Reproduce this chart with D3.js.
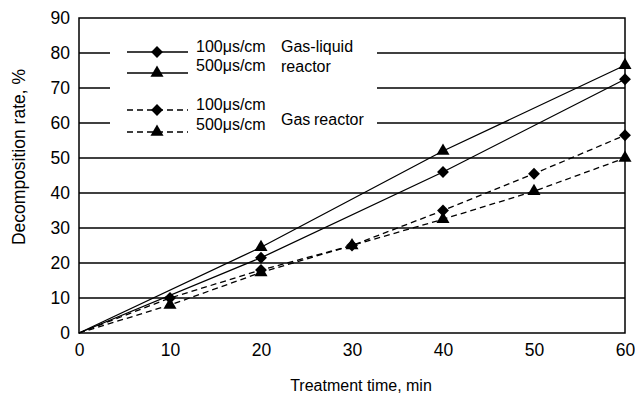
<!DOCTYPE html>
<html><head><meta charset="utf-8">
<script src="https://cdn.jsdelivr.net/npm/d3@7"></script>
<style>body{margin:0;background:#fff}text{font-family:"Liberation Sans",Arial,sans-serif;fill:#000}</style>
</head><body><svg id="c" width="635" height="395"></svg>
<script>
const xTicks = [0,10,20,30,40,50,60];
const yTicks = [0,10,20,30,40,50,60,70,80,90];
const glTime = [0,20,40,60];
const gl100 = [0,21.5,46,72.5];
const gl500 = [0,24.5,52,76.5];
const gTime = [0,10,20,30,40,50,60];
const g100 = [0,10,18,25,35,45.5,56.5];
const g500 = [0,8,17.3,25,32.5,40.5,50];
const seriesNames = ["100μs/cm","500μs/cm","100μs/cm","500μs/cm"];

const series = [
  {t:glTime, v:gl100, sym:"d", dash:null},
  {t:glTime, v:gl500, sym:"t", dash:null},
  {t:gTime, v:g100, sym:"d", dash:"6,4"},
  {t:gTime, v:g500, sym:"t", dash:"6,4"}
];
const symPath = s => s==="d" ? d3.symbol().type(d3.symbolSquare).size(70)() : d3.symbol().type(d3.symbolTriangle).size(74)();
const symRot = s => s==="d" ? " rotate(45)" : "";

const svg = d3.select("#c");
const L=79,R=625,T=18,B=333;
const x = d3.scaleLinear().domain([0,60]).range([L,R]);
const y = d3.scaleLinear().domain([0,90]).range([B,T]);

svg.append("g").selectAll("line").data(yTicks.filter(d=>d>0&&d<90)).join("line")
  .attr("x1",L).attr("x2",R).attr("y1",d=>y(d)).attr("y2",d=>y(d))
  .attr("stroke","#000").attr("stroke-width",1.5);

svg.append("rect").attr("x",110).attr("y",35).attr("width",267).attr("height",105).attr("fill","#fff");

svg.append("rect").attr("x",L).attr("y",T).attr("width",R-L).attr("height",B-T)
  .attr("fill","none").attr("stroke","#000").attr("stroke-width",1.5);

const xa = svg.append("g").attr("transform",`translate(0,${B})`)
  .call(d3.axisBottom(x).tickValues(xTicks).tickSize(0));
xa.select(".domain").remove();
xa.selectAll("text").attr("font-size",17.5).attr("font-family","Liberation Sans, Arial, sans-serif").attr("dy",0).attr("y",23);
const ya = svg.append("g").attr("transform",`translate(${L},0)`)
  .call(d3.axisLeft(y).tickValues(yTicks).tickSize(0).tickPadding(9));
ya.select(".domain").remove();
ya.selectAll("text").attr("font-size",17.5).attr("font-family","Liberation Sans, Arial, sans-serif");

const line = d3.line();
series.forEach(s=>{
  const pts = s.t.map((t,i)=>[x(t),y(s.v[i])]);
  svg.append("path").attr("d",line(pts)).attr("fill","none").attr("stroke","#000")
    .attr("stroke-width",1.3).attr("stroke-dasharray",s.dash);
  svg.append("g").selectAll("path").data(pts.slice(1)).join("path")
    .attr("transform",d=>`translate(${d[0]},${d[1]})${symRot(s.sym)}`)
    .attr("d",symPath(s.sym)).attr("fill","#000");
});

const rowsY = [52,73,110,132];
series.forEach((s,i)=>{
  svg.append("line").attr("x1",127).attr("x2",188).attr("y1",rowsY[i]).attr("y2",rowsY[i])
    .attr("stroke","#000").attr("stroke-width",1.3).attr("stroke-dasharray",s.dash);
  svg.append("path").attr("transform",`translate(157,${rowsY[i]})${symRot(s.sym)}`)
    .attr("d",symPath(s.sym)).attr("fill","#000");
  svg.append("text").attr("x",196).attr("y",rowsY[i]+(i%2===0?0:-2)).attr("font-size",16).text(seriesNames[i]);
});
svg.append("text").attr("x",281).attr("y",52).attr("font-size",16).text("Gas-liquid");
svg.append("text").attr("x",281).attr("y",72).attr("font-size",16).text("reactor");
svg.append("text").attr("x",281).attr("y",125).attr("font-size",16).text("Gas");
svg.append("text").attr("x",314).attr("y",125).attr("font-size",16).text("reactor");

svg.append("text").attr("x",361).attr("y",391).attr("text-anchor","middle").attr("font-size",16).text("Treatment time, min");
svg.append("text").attr("transform","translate(25,157) rotate(-90)").attr("text-anchor","middle").attr("font-size",17.5).text("Decomposition rate, %");
</script></body></html>
